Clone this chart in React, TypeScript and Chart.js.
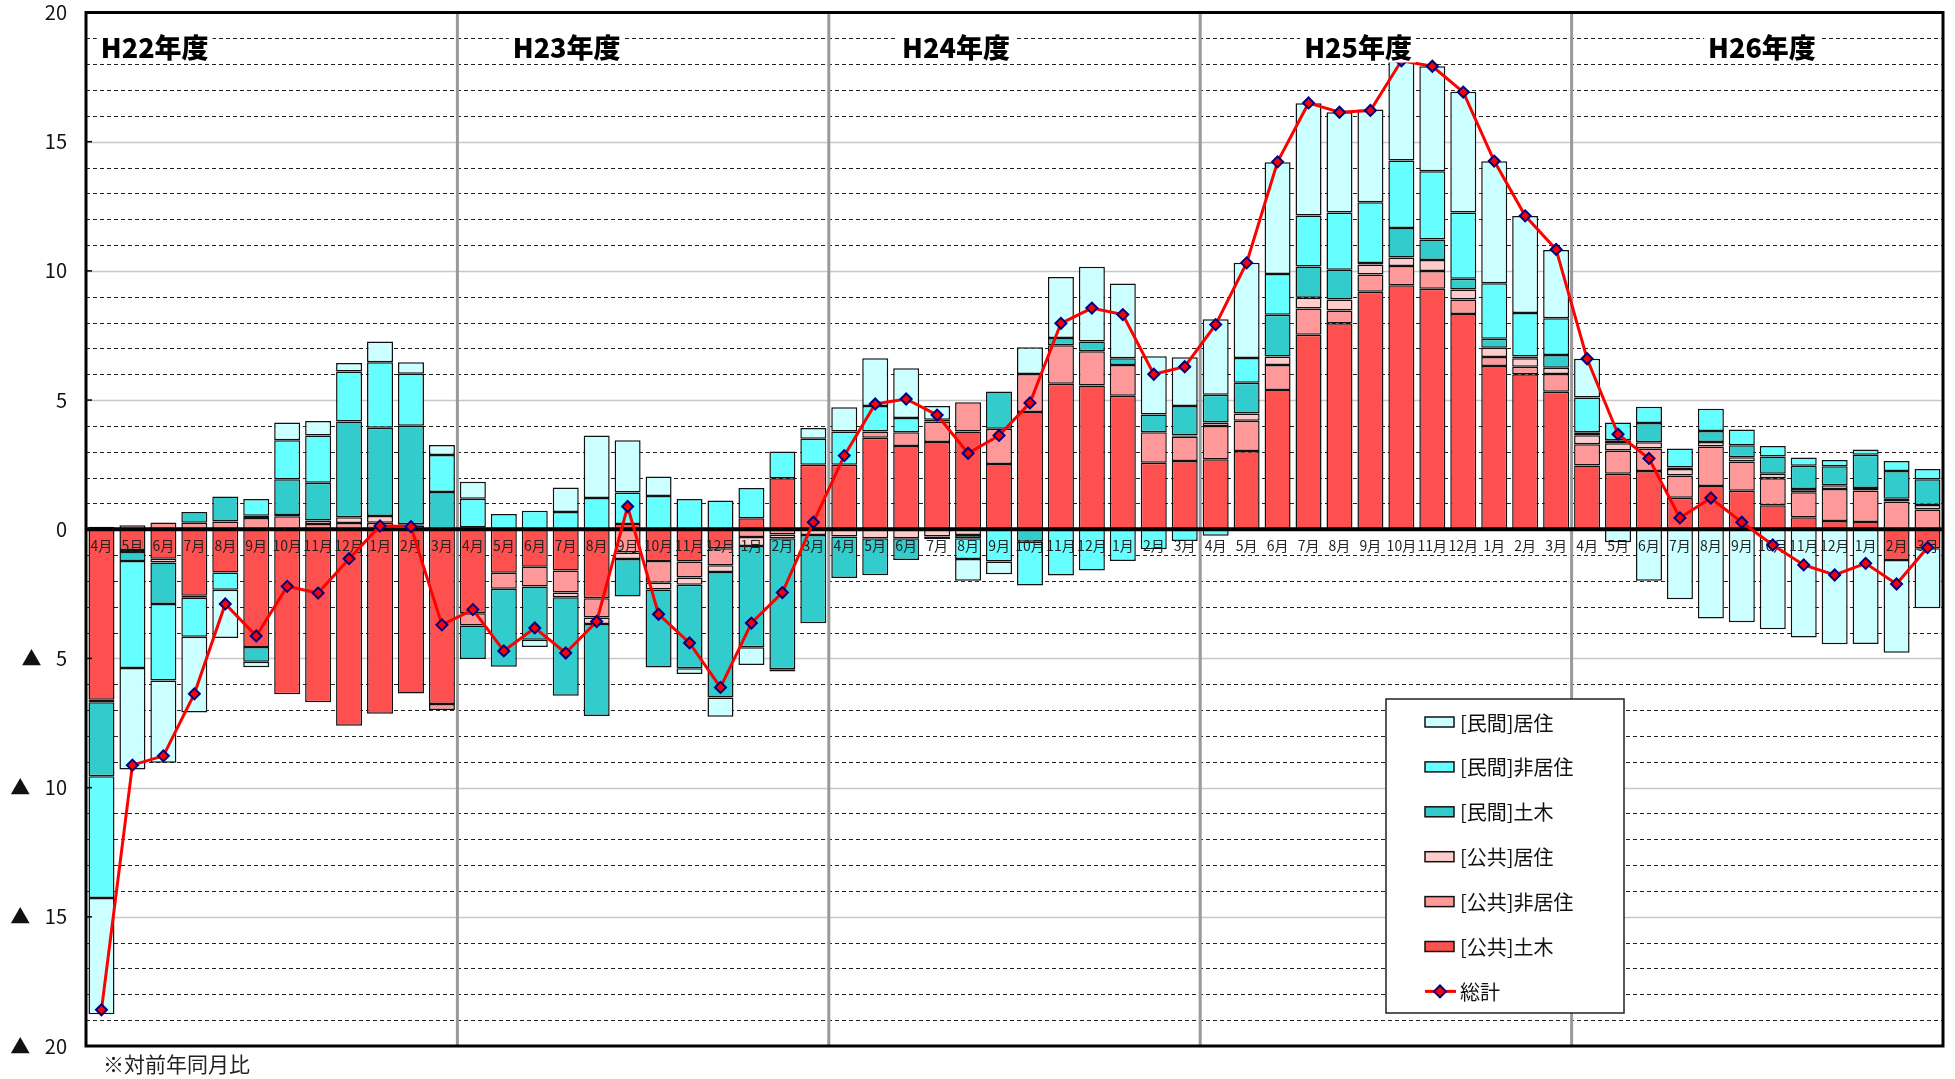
import React, { useEffect, useRef } from 'react';
import { Chart, registerables } from 'chart.js';

Chart.register(...registerables);

// ---------------- data ----------------
const fiscalYears = ['H22年度', 'H23年度', 'H24年度', 'H25年度', 'H26年度'];
const monthNames = ['4月', '5月', '6月', '7月', '8月', '9月', '10月', '11月', '12月', '1月', '2月', '3月'];
const categories = fiscalYears.flatMap((fy) => monthNames.map((m) => `${fy} ${m}`));

const seriesNames = ['[公共]土木', '[公共]非居住', '[公共]居住', '[民間]土木', '[民間]非居住', '[民間]居住'];
const totalName = '総計';

const publicCivil = [
  -6.6, -0.8, -1.14, -2.57, -1.67, -4.56, -6.39, -6.7, -7.61, -7.14, -6.36, -6.76,
  -3.25, -1.68, -1.45, -1.6, -2.67, 0.2, -1.23, -1.25, -0.74, 0.43, 1.97, 2.5,
  2.5, 3.54, 3.22, 3.38, 3.78, 2.53, 4.54, 5.63, 5.56, 5.17, 2.57, 2.64,
  2.71, 3.03, 5.39, 7.53, 7.97, 9.19, 9.44, 9.31, 8.33, 6.32, 6.0, 5.32,
  2.47, 2.15, 2.25, 1.22, 1.67, 1.49, 0.93, 0.46, 0.32, 0.28, -1.19, -0.74,
];
const publicNonRes = [
  0.1, 0.15, 0.26, 0.25, 0.3, 0.44, 0.5, 0.2, 0.24, 0.25, 0.14, -0.24,
  -0.48, -0.62, -0.77, -0.85, -0.75, -0.9, -0.84, -0.62, -0.65, -0.3, -0.2, 0,
  0, 0.24, 0.53, 0.79, 1.14, 1.36, 1.47, 1.49, 1.33, 1.19, 1.18, 0.94,
  1.29, 1.17, 0.97, 1.01, 0.5, 0.67, 0.75, 0.69, 0.56, 0.35, 0.29, 0.69,
  0.82, 0.9, 0.88, 0.86, 1.53, 1.13, 1.04, 0.97, 1.24, 1.22, 1.07, 0.76,
];
const publicRes = [
  -0.1, -0.08, -0.15, -0.08, 0, 0.08, 0.05, 0.14, 0.22, 0.26, 0.05, 0,
  0.08, 0, 0, -0.18, -0.25, -0.25, -0.26, -0.28, -0.26, -0.35, -0.15, -0.22,
  -0.28, -0.35, -0.35, -0.28, -0.22, 0, 0, 0, 0, 0, 0, 0.05,
  0.13, 0.28, 0.33, 0.42, 0.42, 0.39, 0.33, 0.42, 0.39, 0.35, 0.33, 0.24,
  0.35, 0.28, 0.24, 0.25, 0.18, 0.17, 0.18, 0.13, 0.14, 0.1, 0.11, 0.18,
];
const privateCivil = [
  -2.86, -0.35, -1.6, 0.42, 0.97, -0.57, 1.39, 1.46, 3.71, 3.42, 3.82, 1.44,
  -1.29, -3.02, -2.06, -3.81, -3.56, -1.45, -3.02, -3.23, -4.86, -3.92, -5.07, -3.42,
  -1.61, -1.43, -0.84, -0.1, -0.13, 1.44, -0.48, 0.28, 0.38, 0.26, 0.69, 1.14,
  1.08, 1.19, 1.61, 1.21, 1.15, 0.05, 1.14, 0.79, 0.42, 0.35, 0.07, 0.49,
  0.11, 0.11, 0.74, 0.06, 0.42, 0.46, 0.67, 0.9, 0.74, 1.28, 1.07, 1.0,
];
const privateNonRes = [
  -4.71, -4.14, -2.96, -1.51, -0.67, 0.65, 1.5, 1.83, 1.94, 2.53, 2.01, 1.43,
  1.1, 0.59, 0.72, 0.67, 1.21, 1.22, 1.29, 1.17, 1.11, 1.17, 1.04, 1.0,
  1.28, 0.99, 0.56, 0.07, -0.8, -1.25, -1.7, -1.79, -1.6, -1.23, -0.77, -0.45,
  -0.25, 0.96, 1.58, 1.97, 2.22, 2.36, 2.61, 2.65, 2.56, 2.15, 1.68, 1.43,
  1.35, 0.69, 0.63, 0.74, 0.86, 0.61, 0.4, 0.32, 0.24, 0.21, 0.39, 0.39,
];
const privateRes = [
  -4.5, -3.93, -3.19, -2.93, -1.87, -0.21, 0.69, 0.56, 0.32, 0.81, 0.44, 0.39,
  0.66, 0, -0.28, 0.95, 2.42, 2.02, 0.75, -0.22, -0.75, -0.68, -0.09, 0.42,
  0.94, 1.85, 1.92, 0.53, -0.84, -0.49, 1.03, 2.36, 2.89, 2.89, 2.26, 1.89,
  2.92, 3.68, 4.32, 4.35, 3.88, 3.59, 3.85, 4.06, 4.67, 4.72, 3.75, 2.64,
  1.5, -0.5, -1.99, -2.71, -3.45, -3.6, -3.87, -4.19, -4.45, -4.44, -3.59, -2.32,
];
const totals = [
  -18.6, -9.13, -8.77, -6.37, -2.89, -4.13, -2.21, -2.47, -1.14, 0.13, 0.1, -3.7,
  -3.11, -4.71, -3.82, -4.79, -3.57, 0.88, -3.29, -4.4, -6.12, -3.63, -2.45, 0.27,
  2.85, 4.85, 5.04, 4.42, 2.94, 3.63, 4.89, 7.97, 8.56, 8.31, 6.0, 6.29,
  7.92, 10.31, 14.22, 16.5, 16.14, 16.21, 18.13, 17.92, 16.92, 14.25, 12.13, 10.83,
  6.6, 3.68, 2.74, 0.44, 1.21, 0.27, -0.61, -1.38, -1.77, -1.32, -2.12, -0.71,
];

const footnote = '※対前年同月比';

// ---------------- style ----------------
const W = 1955;
const H = 1079;
const FONT = '"Noto Sans CJK JP", "Noto Sans", sans-serif';
const seriesColors = ['#FF5050', '#FF9999', '#FFCCCC', '#33CCCC', '#66FFFF', '#CCFFFF'];
// horizontal centre of each fiscal-year caption, in category units
const yearLabelPos = [1.72, 15.03, 27.61, 40.6, 53.65];

const decorPlugin = {
  id: 'decor',
  beforeDatasetsDraw(chart: any) {
    const { ctx, chartArea: a, scales } = chart;
    const x = scales.x;
    const y = scales.y;
    ctx.save();
    for (let v = -19; v <= 19; v++) {
      if (v === 0) continue;
      const py = Math.round(y.getPixelForValue(v)) + 0.5;
      ctx.beginPath();
      if (v % 5 === 0) {
        ctx.setLineDash([]);
        ctx.strokeStyle = '#c8c8c8';
        ctx.lineWidth = 1.5;
      } else {
        ctx.setLineDash([4, 3]);
        ctx.strokeStyle = '#222';
        ctx.lineWidth = 1;
      }
      ctx.moveTo(a.left, py);
      ctx.lineTo(a.right, py);
      ctx.stroke();
    }
    ctx.setLineDash([]);
    ctx.strokeStyle = '#999';
    ctx.lineWidth = 3;
    for (let k = 1; k < fiscalYears.length; k++) {
      const px = (x.getPixelForValue(k * 12 - 1) + x.getPixelForValue(k * 12)) / 2;
      ctx.beginPath();
      ctx.moveTo(px, a.top);
      ctx.lineTo(px, a.bottom);
      ctx.stroke();
    }
    ctx.restore();
  },
  beforeDatasetDraw(chart: any, args: any) {
    const ds = chart.data.datasets[args.index];
    if (ds.type !== 'line') return;
    const { ctx, chartArea: a, scales } = chart;
    const x = scales.x;
    const y = scales.y;
    const y0 = y.getPixelForValue(0);
    ctx.save();
    ctx.strokeStyle = '#000';
    ctx.lineWidth = 4;
    ctx.beginPath();
    ctx.moveTo(a.left, y0);
    ctx.lineTo(a.right, y0);
    ctx.stroke();
    ctx.font = `14px ${FONT}`;
    ctx.fillStyle = '#222';
    ctx.textAlign = 'center';
    ctx.textBaseline = 'middle';
    categories.forEach((_, i) => {
      ctx.fillText(monthNames[i % 12], x.getPixelForValue(i), y0 + 16);
    });
    ctx.strokeStyle = '#000';
    ctx.lineWidth = 3;
    ctx.strokeRect(a.left, a.top, a.right - a.left, a.bottom - a.top);
    ctx.lineWidth = 1.5;
    for (let v = -15; v <= 15; v += 5) {
      const py = y.getPixelForValue(v);
      ctx.beginPath();
      ctx.moveTo(a.left, py);
      ctx.lineTo(a.left + 6, py);
      ctx.stroke();
    }
    ctx.restore();
  },
  afterDraw(chart: any) {
    const { ctx, chartArea: a, scales } = chart;
    const x = scales.x;
    ctx.save();
    ctx.font = `900 27px ${FONT}`;
    ctx.textAlign = 'center';
    ctx.textBaseline = 'middle';
    fiscalYears.forEach((fy, k) => {
      const cx = x.getPixelForValue(yearLabelPos[k]);
      const cy = a.top + 35;
      const w = ctx.measureText(fy).width;
      ctx.fillStyle = '#fff';
      ctx.fillRect(cx - w / 2 - 4, cy - 15, w + 8, 30);
      ctx.fillStyle = '#000';
      ctx.fillText(fy, cx, cy);
    });
    const lx = 1386, ly = 699, lw = 238, lh = 314;
    ctx.fillStyle = '#fff';
    ctx.fillRect(lx, ly, lw, lh);
    ctx.strokeStyle = '#222';
    ctx.lineWidth = 1.5;
    ctx.strokeRect(lx, ly, lw, lh);
    const datasets = chart.data.datasets;
    const barSets = datasets.filter((d: any) => d.type !== 'line').slice().reverse();
    const lineSet = datasets.find((d: any) => d.type === 'line');
    ctx.font = `20px ${FONT}`;
    ctx.textAlign = 'left';
    ctx.textBaseline = 'middle';
    const rowY = (i: number) => ly + 23 + i * 44.9;
    barSets.forEach((d: any, i: number) => {
      const ry = rowY(i);
      ctx.fillStyle = d.backgroundColor;
      ctx.fillRect(1425, ry - 5, 29, 10);
      ctx.strokeStyle = '#111';
      ctx.lineWidth = 1.5;
      ctx.strokeRect(1425, ry - 5, 29, 10);
      ctx.fillStyle = '#111';
      ctx.fillText(d.label, 1460, ry + 1);
    });
    if (lineSet) {
      const ry = rowY(barSets.length);
      ctx.strokeStyle = lineSet.borderColor;
      ctx.lineWidth = 3;
      ctx.beginPath();
      ctx.moveTo(1425, ry);
      ctx.lineTo(1456, ry);
      ctx.stroke();
      ctx.fillStyle = lineSet.pointBackgroundColor;
      ctx.strokeStyle = lineSet.pointBorderColor;
      ctx.lineWidth = 2;
      ctx.beginPath();
      ctx.moveTo(1440, ry - 6);
      ctx.lineTo(1446, ry);
      ctx.lineTo(1440, ry + 6);
      ctx.lineTo(1434, ry);
      ctx.closePath();
      ctx.fill();
      ctx.stroke();
      ctx.fillStyle = '#111';
      ctx.fillText(lineSet.label, 1460, ry + 1);
    }
    ctx.font = `21px ${FONT}`;
    ctx.fillStyle = '#222';
    ctx.textAlign = 'left';
    ctx.fillText(footnote, 103, 1064);
    ctx.restore();
  },
};

export default function App() {
  const ref = useRef<HTMLCanvasElement | null>(null);

  useEffect(() => {
    document.body.style.margin = '0';
    const canvas = ref.current;
    if (!canvas) return;
    const seriesData = [publicCivil, publicNonRes, publicRes, privateCivil, privateNonRes, privateRes];
    const barDatasets = seriesNames.map((name, i) => ({
      type: 'bar' as const,
      label: name,
      data: seriesData[i],
      backgroundColor: seriesColors[i],
      borderColor: '#111',
      borderWidth: 1.5,
      borderSkipped: false,
      categoryPercentage: 1,
      barPercentage: 0.84,
      stack: 'construction',
      order: 1,
    }));
    const chart = new Chart(canvas, {
      type: 'bar',
      data: {
        labels: categories,
        datasets: [
          ...barDatasets,
          {
            type: 'line' as const,
            label: totalName,
            data: totals,
            borderColor: '#FF0000',
            borderWidth: 3,
            pointStyle: 'rectRot',
            pointRadius: 5.5,
            pointBackgroundColor: '#FF0000',
            pointBorderColor: '#000080',
            pointBorderWidth: 2,
            tension: 0,
            stack: 'total',
            order: 0,
          } as any,
        ],
      },
      options: {
        responsive: false,
        animation: false,
        devicePixelRatio: 1,
        layout: { autoPadding: false, padding: { left: 0, top: 12.5, right: 12, bottom: 33 } } as any,
        plugins: { legend: { display: false }, tooltip: { enabled: false } },
        scales: {
          x: {
            type: 'category',
            display: false,
            offset: true,
            stacked: true,
            grid: { display: false },
          },
          y: {
            min: -20,
            max: 20,
            stacked: true,
            grid: { display: false, drawTicks: false },
            border: { display: false },
            afterFit: (scale: any) => {
              scale.width = 86;
              scale.paddingTop = 0;
              scale.paddingBottom = 0;
            },
            ticks: {
              stepSize: 5,
              padding: 19,
              color: '#111',
              font: { family: FONT, size: 20 },
              callback: (v: any) => (Number(v) < 0 ? `▲\u2002 ${-Number(v)}` : String(v)),
            },
          },
        },
      },
      plugins: [decorPlugin],
    });
    return () => chart.destroy();
  }, []);

  return (
    <div style={{ width: W, height: H }}>
      <canvas ref={ref} width={W} height={H} style={{ display: 'block' }} />
    </div>
  );
}
